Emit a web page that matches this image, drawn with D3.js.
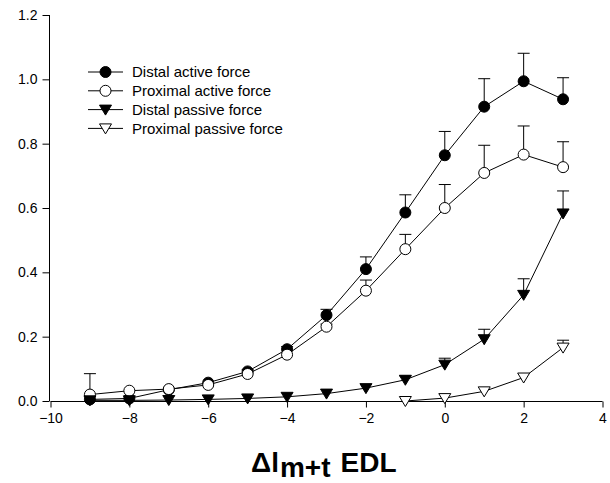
<!DOCTYPE html>
<html>
<head>
<meta charset="utf-8">
<script src="https://cdn.jsdelivr.net/npm/d3@7"></script>
<style>
  html, body { margin: 0; padding: 0; background: #fff; }
  svg { display: block; }
  text { font-family: "Liberation Sans", Arial, sans-serif; fill: #000; }
</style>
</head>
<body>
<svg id="chart" width="610" height="483"></svg>
<script>
// ---- data ----
const xValues = [-9, -8, -7, -6, -5, -4, -3, -2, -1, 0, 1, 2, 3];
const distalActive   = [0.005, 0.008, 0.035, 0.057, 0.092, 0.161, 0.267, 0.410, 0.586, 0.764, 0.915, 0.994, 0.938];
const distalActiveErr= [0, 0, 0, 0, 0.005, 0.008, 0.018, 0.038, 0.055, 0.074, 0.087, 0.087, 0.067];
const proximalActive   = [0.020, 0.032, 0.037, 0.050, 0.084, 0.144, 0.231, 0.343, 0.472, 0.600, 0.709, 0.766, 0.727];
const proximalActiveErr= [0.065, 0, 0, 0, 0, 0, 0.008, 0.033, 0.046, 0.073, 0.086, 0.089, 0.079];
const distalPassive   = [0.002, 0.002, 0.003, 0.005, 0.008, 0.013, 0.023, 0.040, 0.066, 0.113, 0.192, 0.330, 0.583];
const distalPassiveErr= [0, 0, 0, 0, 0, 0, 0, 0, 0.012, 0.020, 0.031, 0.050, 0.070];
const proximalPassiveX = [-1, 0, 1, 2, 3];
const proximalPassive   = [0.000, 0.009, 0.030, 0.073, 0.166];
const proximalPassiveErr= [0, 0, 0, 0, 0.023];
const seriesNames = ["Distal active force", "Proximal active force", "Distal passive force", "Proximal passive force"];
const xTicks = [-10, -8, -6, -4, -2, 0, 2, 4];
const yTicks = [0.0, 0.2, 0.4, 0.6, 0.8, 1.0, 1.2];

// ---- layout ----
const svg = d3.select("#chart");
const x = d3.scaleLinear().domain([-10, 4]).range([50.5, 602.5]);
const y = d3.scaleLinear().domain([0, 1.2]).range([401, 15]);

const series = [
  { name: seriesNames[0], xs: xValues, ys: distalActive, err: distalActiveErr, shape: "circle", fill: "#000" },
  { name: seriesNames[1], xs: xValues, ys: proximalActive, err: proximalActiveErr, shape: "circle", fill: "#fff" },
  { name: seriesNames[2], xs: xValues, ys: distalPassive, err: distalPassiveErr, shape: "tri", fill: "#000" },
  { name: seriesNames[3], xs: proximalPassiveX, ys: proximalPassive, err: proximalPassiveErr, shape: "tri", fill: "#fff" }
];

// axes
const yAxis = d3.axisLeft(y).tickValues(yTicks).tickFormat(d3.format(".1f")).tickSize(7).tickPadding(5);
const xAxis = d3.axisBottom(x).tickValues(xTicks).tickFormat(d3.format("d")).tickSize(6).tickPadding(4);

const gy = svg.append("g").attr("transform", "translate(49.5,0)").call(yAxis);
const gx = svg.append("g").attr("transform", `translate(0,${y(0) + 0.5})`).call(xAxis);
[gx, gy].forEach(g => {
  g.select(".domain").attr("stroke", "#000").attr("stroke-width", 1);
  g.selectAll(".tick line").attr("stroke", "#000");
  g.selectAll(".tick text").style("font-size", "14px").style("font-family", '"Liberation Sans", Arial, sans-serif').attr("fill", "#000");
});
gy.select(".domain").attr("d", `M0,${y(1.2)}V${y(0)}`);
gx.select(".domain").attr("d", `M${x(-10)},0H${x(4)}`);
gx.selectAll(".tick text").attr("dy", "0.85em");

// marker shapes
function markerPath(shape) {
  if (shape === "circle") return d3.symbol().type(d3.symbolCircle).size(Math.PI * 5.5 * 5.5)();
  return "M-6,-4.5L6,-4.5L0,5.5Z"; // downward triangle
}

const plot = svg.append("g");
const line = d3.line().x(d => x(d[0])).y(d => y(d[1]));

series.forEach(s => {
  const pts = s.xs.map((xv, i) => [xv, s.ys[i], s.err[i]]);
  const g = plot.append("g");
  const eb = g.selectAll(".eb").data(pts.filter(p => p[2] > 0)).enter().append("g");
  eb.append("line")
    .attr("x1", d => x(d[0])).attr("x2", d => x(d[0]))
    .attr("y1", d => y(d[1])).attr("y2", d => y(d[1] + d[2]))
    .attr("stroke", "#000").attr("stroke-width", 1);
  eb.append("line")
    .attr("x1", d => x(d[0]) - 6).attr("x2", d => x(d[0]) + 6)
    .attr("y1", d => y(d[1] + d[2])).attr("y2", d => y(d[1] + d[2]))
    .attr("stroke", "#000").attr("stroke-width", 1);
  g.append("path").datum(pts).attr("d", line)
    .attr("fill", "none").attr("stroke", "#000").attr("stroke-width", 1);
  g.selectAll(".m").data(pts).enter().append("path")
    .attr("d", markerPath(s.shape))
    .attr("transform", d => `translate(${x(d[0])},${y(d[1])})`)
    .attr("fill", s.fill).attr("stroke", "#000").attr("stroke-width", 1);
});

// legend
const legend = svg.append("g");
series.forEach((s, i) => {
  const ly = 72 + i * 18.8;
  legend.append("line").attr("x1", 88).attr("x2", 123).attr("y1", ly).attr("y2", ly)
    .attr("stroke", "#000").attr("stroke-width", 1);
  legend.append("path").attr("d", markerPath(s.shape))
    .attr("transform", `translate(105.5,${ly})`)
    .attr("fill", s.fill).attr("stroke", "#000").attr("stroke-width", 1);
  legend.append("text").attr("x", 132).attr("y", ly).attr("dy", "0.35em")
    .style("font-size", "15px").text(s.name);
});

// x-axis title
const title = svg.append("text").attr("x", 251).attr("y", 472).style("font-weight", "bold");
title.append("tspan").style("font-size", "28px").text("Δl");
title.append("tspan").attr("dy", 5).attr("dx", 1).style("font-size", "28px").text("m+t");
title.append("tspan").attr("dy", -5).attr("dx", 10).style("font-size", "28px").text("EDL");
</script>
</body>
</html>
